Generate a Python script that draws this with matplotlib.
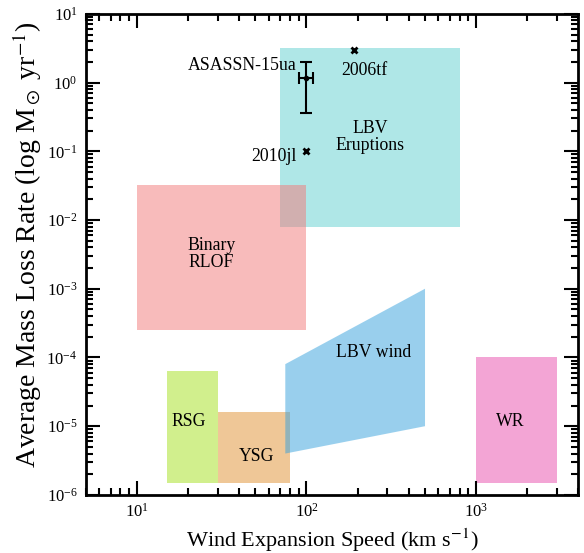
import matplotlib
matplotlib.use("Agg")
import matplotlib.pyplot as plt
from matplotlib.patches import Polygon
from matplotlib.ticker import LogLocator, NullFormatter

plt.rcParams['font.family'] = ['Liberation Serif', 'DejaVu Serif']
plt.rcParams['mathtext.fontset'] = 'stix'

# Regions: (name, x range, y range, colour)
rect_names = ["LBV\nEruptions", "Binary\nRLOF", "RSG", "YSG", "WR"]
rect_x = [(70, 800), (10, 100), (15, 30), (30, 80), (1000, 3000)]
rect_y = [(0.008, 3.2), (2.5e-4, 0.032), (1.5e-6, 6.4e-5), (1.5e-6, 1.6e-5), (1.5e-6, 1e-4)]
rect_colors = ["#61d1d1", "#f37979", "#a5e11d", "#e19131", "#e94dad"]
rect_label_x = [237, 27.6, 20.2, 50.7, 1580]
rect_label_y = [0.164, 0.0032, 1.17e-5, 3.6e-6, 1.17e-5]

lbv_wind_x = [75, 500, 500, 75]
lbv_wind_y = [8e-5, 1e-3, 1e-5, 4e-6]
lbv_wind_color = "#35a1dd"
lbv_wind_label = ("LBV wind", 248, 1.2e-4)

# Supernovae
sn_names = ["2006tf", "2010jl"]
sn_x = [190, 100]
sn_y = [3.0, 0.1]
sn_label_x = [219, 88]
sn_label_y = [1.5, 0.084]

asassn_x, asassn_y = 100, 1.16
asassn_xerr = 10
asassn_yerr_low, asassn_yerr_high = 1.16 - 0.36, 2.0 - 1.16

FS = 12.8

fig = plt.figure(figsize=(5.84, 5.53), dpi=100)
ax = fig.add_axes([0.147, 0.105, 0.843, 0.870])
ax.set_xscale('log')
ax.set_yscale('log')
ax.set_xlim(5, 4000)
ax.set_ylim(1e-6, 10)

for i in [0, 1, 2, 3]:
    (x0, x1), (y0, y1) = rect_x[i], rect_y[i]
    ax.fill_between([x0, x1], [y0, y0], [y1, y1], color=rect_colors[i], alpha=0.5, lw=0)
ax.add_patch(Polygon(list(zip(lbv_wind_x, lbv_wind_y)), closed=True,
                     facecolor=lbv_wind_color, alpha=0.5, lw=0))
(x0, x1), (y0, y1) = rect_x[4], rect_y[4]
ax.fill_between([x0, x1], [y0, y0], [y1, y1], color=rect_colors[4], alpha=0.5, lw=0)

for name, lx, ly in zip(rect_names, rect_label_x, rect_label_y):
    ax.text(lx, ly, name, ha='center', va='center', fontsize=FS, linespacing=1.0)
ax.text(lbv_wind_label[1], lbv_wind_label[2], lbv_wind_label[0], ha='center', va='center', fontsize=FS)

ax.plot(sn_x, sn_y, 'x', color='black', ms=4.5, mew=2, ls='none')
ax.text(sn_label_x[0], sn_label_y[0], sn_names[0], ha='center', va='center', fontsize=FS)
ax.text(sn_label_x[1], sn_label_y[1], sn_names[1], ha='right', va='center', fontsize=FS)

ax.errorbar([asassn_x], [asassn_y], xerr=[asassn_xerr],
            yerr=[[asassn_yerr_low], [asassn_yerr_high]],
            fmt='o', color='black', ms=3, capsize=4, elinewidth=1.5, capthick=1.5)
ax.text(87, 1.8, "ASASSN-15ua", ha='right', va='center', fontsize=FS)

ax.set_xlabel(r"Wind Expansion Speed (km s$^{-1}$)", fontsize=16)
ax.set_ylabel(r"Average Mass Loss Rate (log M$_\odot$ yr$^{-1}$)", fontsize=20)
ax.yaxis.set_label_coords(-0.086, 0.52)

ax.xaxis.set_minor_locator(LogLocator(base=10, subs=range(2, 10), numticks=20))
ax.yaxis.set_minor_locator(LogLocator(base=10, subs=range(2, 10), numticks=20))
ax.yaxis.set_major_locator(LogLocator(base=10, numticks=20))
ax.xaxis.set_minor_formatter(NullFormatter())
ax.yaxis.set_minor_formatter(NullFormatter())
ax.tick_params(which='both', direction='in', top=True, right=True, labelsize=12)
ax.tick_params(which='major', length=10, width=1.5, pad=6)
ax.tick_params(which='minor', length=5, width=1.5)
for s in ax.spines.values():
    s.set_linewidth(2)

fig.savefig("out.png", dpi=100)
